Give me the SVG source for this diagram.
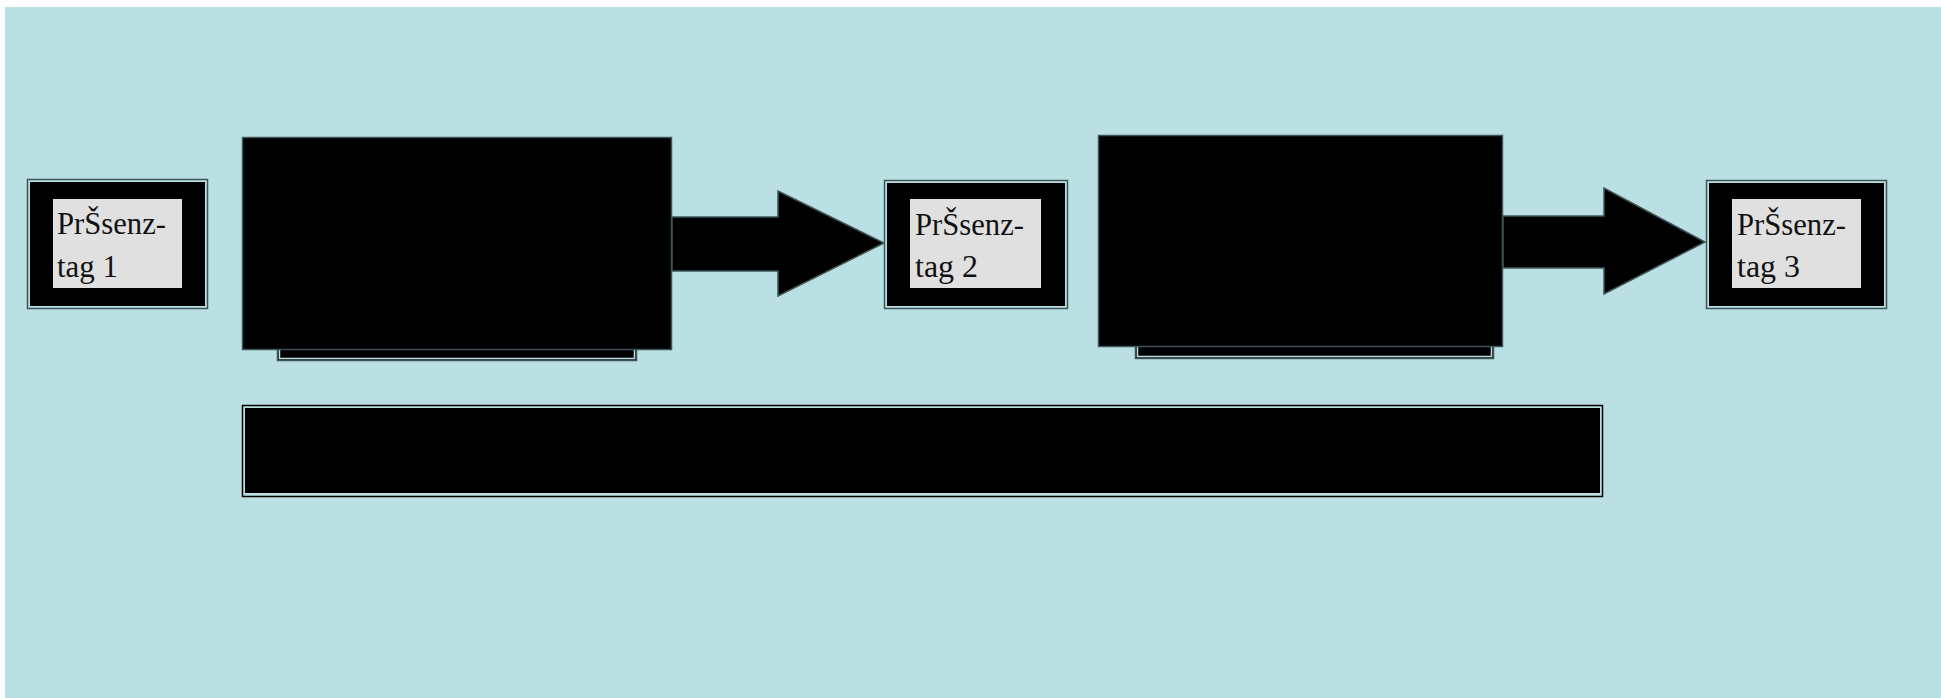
<svg xmlns="http://www.w3.org/2000/svg" width="1941" height="698" viewBox="0 0 1941 698">
<style>
.frame{fill:#bae0e3;stroke:#3d5558;stroke-width:1.5}
.blk{fill:#000}
.big{fill:#000;stroke:#3d5558;stroke-width:1.5}
.under{fill:#000;stroke:#3d5558;stroke-width:1.5}
.underin{fill:none;stroke:#bae0e3;stroke-width:1.5}
.lbl{fill:#e0e0e0}
.t{font-family:"Liberation Serif","DejaVu Serif","Noto Serif",serif;font-size:32px;fill:#111}
.arr{fill:#000;stroke:#3d5558;stroke-width:1.5;stroke-linejoin:miter}
</style>
<rect x="0" y="0" width="1941" height="698" fill="#ffffff"/>
<rect x="5" y="7" width="1936" height="691" fill="#bae0e3"/>

<g id="activity1">
<rect class="under" x="277.5" y="330" width="359" height="30.5"/>
<path class="underin" d="M279.5 330 V358.5 H634.5 V330"/>
<rect class="big" x="242.5" y="137.5" width="429" height="212"/>
</g>

<g id="activity2">
<rect class="under" x="1135.5" y="330" width="358" height="28.5"/>
<path class="underin" d="M1137.5 330 V356.5 H1491.5 V330"/>
<rect class="big" x="1098.5" y="135.5" width="404" height="211"/>
</g>

<g id="connectors">
<polygon class="arr" points="672,217 778,217 778,191 884,243 778,296 778,271 672,271"/>
<polygon class="arr" points="1503,216 1604,216 1604,188 1705,242 1604,294 1604,268 1503,268"/>
</g>

<g id="day1">
<rect class="frame" x="27.5" y="179.5" width="180" height="129"/>
<rect class="blk" x="30" y="182" width="175" height="124"/>
<rect class="lbl" x="53" y="199" width="129" height="89"/>
<text class="t" x="57" y="234" textLength="109" lengthAdjust="spacingAndGlyphs">PrŠsenz-</text>
<text class="t" x="57" y="277" textLength="61" lengthAdjust="spacingAndGlyphs">tag 1</text>
</g>

<g id="day2">
<rect class="frame" x="884.5" y="180.5" width="183" height="128"/>
<rect class="blk" x="887" y="183" width="178" height="123"/>
<rect class="lbl" x="910" y="199" width="131" height="89"/>
<text class="t" x="915" y="235" textLength="109" lengthAdjust="spacingAndGlyphs">PrŠsenz-</text>
<text class="t" x="915" y="277" textLength="63" lengthAdjust="spacingAndGlyphs">tag 2</text>
</g>

<g id="day3">
<rect class="frame" x="1706.5" y="180.5" width="180" height="128"/>
<rect class="blk" x="1709" y="183" width="175" height="123"/>
<rect class="lbl" x="1732" y="199" width="129" height="89"/>
<text class="t" x="1737" y="235" textLength="109" lengthAdjust="spacingAndGlyphs">PrŠsenz-</text>
<text class="t" x="1737" y="277" textLength="63" lengthAdjust="spacingAndGlyphs">tag 3</text>
</g>

<g id="bar">
<rect x="242.5" y="405.5" width="1360" height="91" fill="#bae0e3" stroke="#000" stroke-width="1.5"/>
<rect class="blk" x="245" y="408" width="1355" height="85"/>
</g>
</svg>
